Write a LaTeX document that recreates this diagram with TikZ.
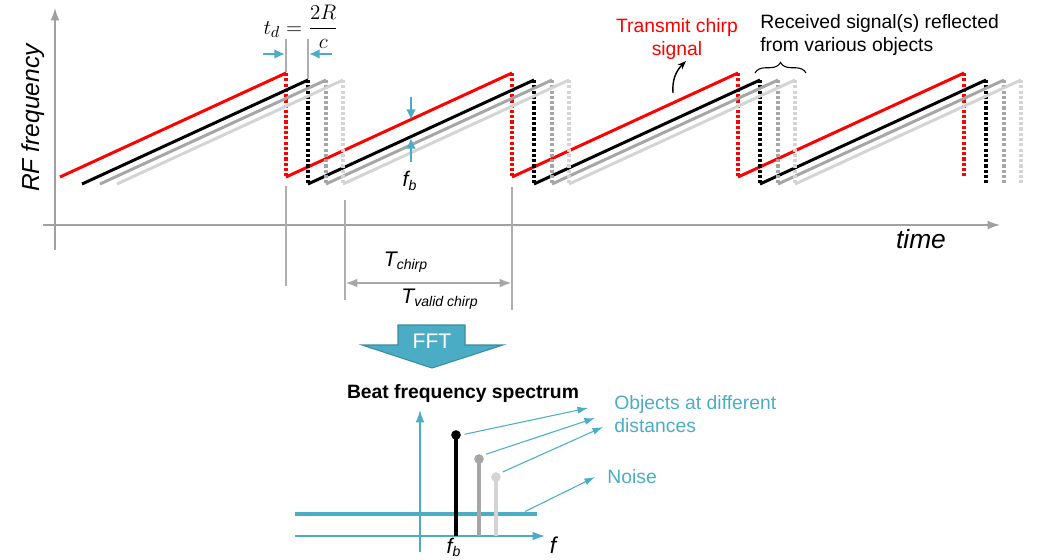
\documentclass[tikz,border=0pt]{standalone}
\usepackage{amsmath}
\usepackage{fontspec}
\setmainfont{Liberation Sans}
\usepackage{xcolor}
\usepackage{tikz}
\usetikzlibrary{arrows.meta, decorations.pathreplacing}
\definecolor{rxgray}{HTML}{A6A6A6}
\definecolor{rxlight}{HTML}{D4D4D4}
\definecolor{fftblue}{HTML}{4BACC6}
\definecolor{axisgray}{HTML}{A0A0A0}

\begin{document}
\begin{tikzpicture}[x=0.02cm, y=-0.02cm,
  chirp/.style={line width=1.7pt},
  retrace/.style={line width=1.8pt, dash pattern=on 1.8pt off 1.2pt},
  guide/.style={draw=axisgray!85, line width=0.6pt},
  axis/.style={draw=axisgray, line width=0.8pt, -{Latex[length=7pt,width=5pt]}},
  label/.style={font=\fontsize{11}{13}\selectfont, inner sep=0pt},
  measure/.style={draw=fftblue, line width=1.5pt, -{Latex[length=6pt,width=5.5pt]}},
  pointer/.style={draw=fftblue, line width=0.6pt, -{Latex[length=6pt,width=4pt]}, shorten <=2pt},
  stem/.style={line width=1.8pt},
  dot/.style={circle, inner sep=0pt, minimum size=5.5pt},
]
\useasboundingbox (0,0) rectangle (1042,559);

% axes of the time plot
\draw[axis] (55,250) -- (55,8);
\draw[axis] (43,225) -- (1000,225);
\node[rotate=90, font=\fontsize{14}{16}\selectfont\itshape] (ylab) at (33,118) {RF frequency};
\node[font=\fontsize{15}{17}\selectfont\itshape] (xlab) at (921,239) {time};

% guide lines
\draw[guide] (286,39) -- (286,72);
\draw[guide] (286,186) -- (286,286);
\draw[guide] (308,39) -- (308,79);
\draw[guide] (345,200) -- (345,300);
\draw[guide] (512,187) -- (512,310);

% transmitted and received chirps
\foreach \dx/\dy/\col in {0/0/red, 22/7/black, 40/7/rxgray, 57/7/rxlight} {
  \foreach \k in {0,...,3} {
    \draw[chirp, \col] ({60+\dx+226*\k},{177+\dy}) -- ({286+\dx+226*\k},{73+\dy});
    \draw[retrace, \col] ({286+\dx+226*\k},{73+\dy}) -- ({286+\dx+226*\k},{177+\dy});
  }
}

% delay
\draw[measure] (263,54) -- (285,54);
\draw[measure] (332,54) -- (309,54);
\node (td) at (301,27) {\fontsize{13}{15}\selectfont $t_d=\dfrac{2R}{c}$};

% beat frequency
\draw[measure] (411,97) -- (411,120);
\draw[measure] (411,162) -- (411,138);
\node[font=\fontsize{12}{14}\selectfont] (fb) at (410,181) {\itshape f\textsubscript{b}};

% chirp durations
\draw[draw=rxgray, line width=1.5pt, {Latex[length=7pt,width=5pt]}-{Latex[length=7pt,width=5pt]}] (345,283) -- (512,283);
\node[font=\fontsize{12}{14}\selectfont] (tchirp) at (406,262) {\itshape T\textsubscript{chirp}};
\node[font=\fontsize{12}{14}\selectfont] (tvalid) at (440,299) {\itshape T\textsubscript{valid chirp}};

% signal labels
\node[label, red, align=center, anchor=north] (tx) at (677,18) {Transmit chirp\\signal};
\coordinate (txtail) at (673,93);
\coordinate (txtip) at (686,61);
\draw[line width=0.8pt, -{Stealth[length=5pt]}] (txtail) to[out=95, in=225] (txtip);
\node[label, align=left, anchor=north west] (rx) at (760,14) {Received signal(s) reflected\\from various objects};
\draw[decorate, decoration={brace, amplitude=6pt}, line width=0.6pt] (755,73) -- (806,73);

% FFT block arrow
\draw[fill=fftblue, draw=fftblue!80!black, line width=0.6pt]
  (398,325) -- (465,325) -- (465,345) -- (503,345) -- (432,368) -- (362,345) -- (398,345) -- cycle;
\node[label, white, font=\fontsize{12}{14}\selectfont] (fft) at (432,341) {FFT};

% spectrum
\node[font=\fontsize{11}{13}\selectfont\bfseries] (beat) at (463,393) {Beat frequency spectrum};
\draw[axis, draw=fftblue] (420,552) -- (420,410);
\draw[axis, draw=fftblue] (295,536) -- (545,536);
\draw[fftblue, line width=2.2pt] (295,514) -- (537,514);
\draw[stem, black] (456,536) -- (456,435);
\draw[stem, rxgray] (479,536) -- (479,459);
\draw[stem, rxlight] (496,536) -- (496,477);
\node[dot, fill=black] (d1) at (456,435) {};
\node[dot, fill=rxgray] (d2) at (479,459) {};
\node[dot, fill=rxlight] (d3) at (496,477) {};
\node[font=\fontsize{12}{14}\selectfont] (fbl) at (454,547) {\itshape f\textsubscript{b}};
\node[font=\fontsize{13}{15}\selectfont] (fl) at (553,545) {\itshape f};

\node[label, fftblue, align=left, anchor=north west] (obj) at (614,395) {Objects at different\\distances};
\node[label, fftblue, anchor=west] (noise) at (607,477) {Noise};
\coordinate (o1) at (588,408);
\coordinate (o2) at (595,418);
\coordinate (o3) at (603,427);
\coordinate (nz) at (522,513);
\coordinate (n1) at (595,477);
\draw[pointer] (d1.east) -- (o1);
\draw[pointer] (d2.north east) -- (o2);
\draw[pointer] (d3.north east) -- (o3);
\draw[pointer] (nz) -- (n1);
\end{tikzpicture}
\end{document}
